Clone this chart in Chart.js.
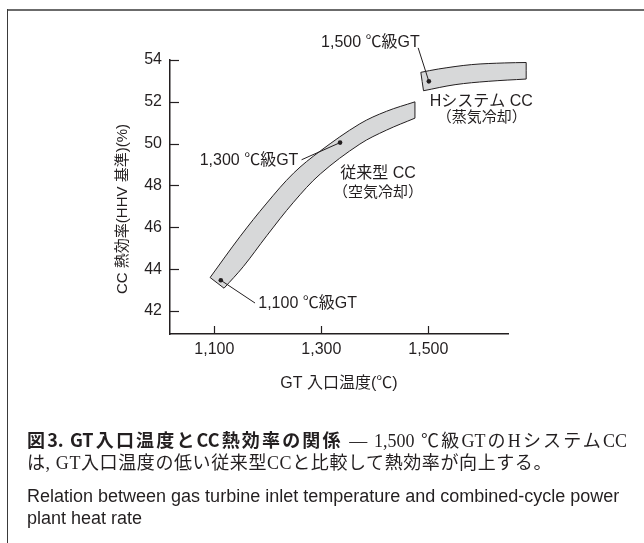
<!DOCTYPE html>
<html><head><meta charset="utf-8">
<script src="https://cdn.jsdelivr.net/npm/chart.js@4.4.1/dist/chart.umd.min.js"></script>
<style>
html,body{margin:0;padding:0;background:#fff;}
body{width:644px;height:543px;position:relative;overflow:hidden;}
#c{position:absolute;left:0;top:0;}
.frameTop{position:absolute;left:7px;top:9px;width:637px;height:2px;background:#6b6b6b;}
.frameLeft{position:absolute;left:7px;top:9px;width:1px;height:534px;background:#3a3a3a;}
.cap{position:absolute;left:27px;color:#231f20;white-space:nowrap;}
.jp1{top:428px;font-size:18px;line-height:22px;width:600px;text-align:justify;text-align-last:justify;}
.jp2{top:452px;font-size:18px;line-height:22px;letter-spacing:0.6px;}
.b{font-family:"Noto Sans CJK JP",sans-serif;font-weight:700;}
.s{font-family:"Liberation Serif","Noto Sans CJK JP",serif;font-weight:400;}
.en{font-family:"Liberation Sans",Arial,sans-serif;font-size:18px;line-height:21px;}
.en1{top:486px;}
.en2{top:508px;}
</style>
</head><body>
<canvas id="c" width="644" height="543"></canvas>
<div class="frameTop"></div>
<div class="frameLeft"></div>
<div class="cap jp1"><span class="b">図3.&nbsp;GT入口温度とCC熱効率の関係</span><span class="s">&nbsp;— 1,500 ℃級GTのHシステムCC</span></div>
<div class="cap jp2 s">は, GT入口温度の低い従来型CCと比較して熱効率が向上する。</div>
<div class="cap en en1">Relation between gas turbine inlet temperature and combined-cycle power</div>
<div class="cap en en2">plant heat rate</div>
<script>
// ---- axis ticks ----
const xTickValues = [1100, 1300, 1500];
const xTickLabels = ['1,100', '1,300', '1,500'];
const yTickValues = [42, 44, 46, 48, 50, 52, 54];

// ---- conventional CC (air cooled) band outline ----
const convUpperX = [1092, 1148, 1198, 1248, 1298, 1372, 1422, 1475];
const convUpperY = [43.60, 45.56, 47.16, 48.59, 49.65, 50.95, 51.55, 52.00];
const convLowerX = [1475, 1422, 1372, 1298, 1248, 1198, 1154, 1118];
const convLowerY = [51.22, 50.65, 49.98, 48.55, 47.20, 45.60, 44.12, 43.09];

// ---- H system CC (steam cooled) band outline ----
const hUpperX = [1486, 1519, 1581, 1643, 1683];
const hUpperY = [53.41, 53.57, 53.78, 53.86, 53.88];
const hLowerX = [1683, 1612, 1550, 1491];
const hLowerY = [53.09, 52.98, 52.82, 52.53];

// ---- GT class points ----
const gtLabels = ['1,100 ℃級GT', '1,300 ℃級GT', '1,500 ℃級GT'];
const gtPointX = [1112, 1335, 1501];
const gtPointY = [43.47, 50.05, 52.98];
const gtLeaderX = [1176, 1263, 1481];
const gtLeaderY = [42.38, 49.23, 54.58];
const gtLabelX = [1182, 1257, 1484];
const gtLabelY = [42.37, 49.19, 54.81];
const gtLabelAlign = ['left', 'right', 'right'];

// ---- band names ----
const bandNames = ['従来型 CC', '（空気冷却）', 'Hシステム CC', '（蒸気冷却）'];
const bandNameX = [1406, 1406, 1599, 1600];
const bandNameY = [48.59, 47.63, 52.02, 51.22];

const xTitle = 'GT 入口温度(℃)';
const yTitle = 'CC 熱効率(HHV 基準)(%)';

const INK = '#231f20';
const FONT = '"Liberation Sans", Arial, "Noto Sans CJK JP", sans-serif';

function outline(ux, uy, lx, ly) {
  const pts = [];
  const up = ux.map((x, i) => ({x, y: uy[i]}));
  const lo = lx.map((x, i) => ({x, y: ly[i]}));
  // duplicate corners so curves stay sharp at the band ends
  pts.push(up[0], up[0]);
  for (let i = 1; i < up.length - 1; i++) pts.push(up[i]);
  pts.push(up[up.length - 1], up[up.length - 1]);
  pts.push(lo[0], lo[0]);
  for (let i = 1; i < lo.length - 1; i++) pts.push(lo[i]);
  pts.push(lo[lo.length - 1], lo[lo.length - 1]);
  pts.push(up[0]);
  return pts;
}

const bandStyle = {
  showLine: true, pointRadius: 0, borderColor: INK, borderWidth: 1,
  backgroundColor: '#d7d8d9', fill: false, tension: 0.35, clip: false, order: 3, bandFill: true
};

const datasets = [
  Object.assign({label: 'conv', data: outline(convUpperX, convUpperY, convLowerX, convLowerY)}, bandStyle),
  Object.assign({label: 'hsys', data: outline(hUpperX, hUpperY, hLowerX, hLowerY)}, bandStyle),
];
gtPointX.forEach((x, i) => {
  datasets.push({
    label: 'leader' + i, data: [{x: gtLeaderX[i], y: gtLeaderY[i]}, {x, y: gtPointY[i]}],
    showLine: true, pointRadius: 0, borderColor: INK, borderWidth: 1, tension: 0, clip: false, order: 2
  });
});
datasets.push({
  label: 'gt', data: gtPointX.map((x, i) => ({x, y: gtPointY[i]})),
  pointRadius: 2.3, pointBackgroundColor: INK, pointBorderWidth: 0, clip: false, order: 1
});

const custom = {
  id: 'custom',
  beforeDatasetDraw(chart, args) {
    const ds = chart.data.datasets[args.index];
    if (!ds.bandFill) return;
    const line = args.meta.dataset;
    const ctx = chart.ctx;
    ctx.save();
    ctx.beginPath();
    line.path(ctx);
    ctx.closePath();
    ctx.fillStyle = ds.backgroundColor;
    ctx.fill();
    ctx.restore();
  },
  afterDraw(chart) {
    const ctx = chart.ctx;
    const xs = chart.scales.x, ys = chart.scales.y;
    const a = chart.chartArea;
    ctx.save();
    ctx.strokeStyle = INK;
    ctx.lineWidth = 1.2;
    xs.ticks.forEach(t => {
      const px = Math.round(xs.getPixelForValue(t.value)) + 0.5;
      ctx.beginPath(); ctx.moveTo(px, a.bottom); ctx.lineTo(px, a.bottom - 8); ctx.stroke();
    });
    ys.ticks.forEach(t => {
      const py = Math.round(ys.getPixelForValue(t.value)) + 0.5;
      ctx.beginPath(); ctx.moveTo(a.left, py); ctx.lineTo(a.left + 9, py); ctx.stroke();
    });
    ctx.fillStyle = INK;
    ctx.font = '16px ' + FONT;
    ctx.textBaseline = 'middle';
    gtLabels.forEach((s, i) => {
      ctx.textAlign = gtLabelAlign[i];
      ctx.fillText(s, xs.getPixelForValue(gtLabelX[i]), ys.getPixelForValue(gtLabelY[i]));
    });
    ctx.textAlign = 'center';
    bandNames.forEach((s, i) => {
      ctx.font = (s.startsWith('（') ? '15px ' : '16px ') + FONT;
      ctx.fillText(s, xs.getPixelForValue(bandNameX[i]), ys.getPixelForValue(bandNameY[i]));
    });
    // y axis title
    ctx.font = '15px ' + FONT;
    ctx.translate(123, (a.top + a.bottom) / 2 + 12);
    ctx.rotate(-Math.PI / 2);
    ctx.fillText(yTitle, 0, 0);
    ctx.restore();
  }
};

new Chart(document.getElementById('c'), {
  type: 'scatter',
  data: {datasets},
  options: {
    responsive: false, animation: false, devicePixelRatio: 1,
    layout: {padding: {top: 60, left: 0, right: 136, bottom: 143}},
    plugins: {legend: {display: false}, tooltip: {enabled: false}},
    elements: {line: {capBezierPoints: false}},
    scales: {
      x: {
        type: 'linear', min: 1017, max: 1649,
        afterBuildTicks: s => { s.ticks = xTickValues.map(v => ({value: v})); },
        afterFit: s => { s.height = 66; },
        ticks: {
          padding: 6, color: INK, font: {family: FONT, size: 16}, maxRotation: 0, autoSkip: false,
          callback: v => { const i = xTickValues.indexOf(v); return i >= 0 ? xTickLabels[i] : ''; }
        },
        grid: {display: false, drawTicks: false},
        border: {display: true, color: INK, width: 1.5},
        title: {display: true, text: xTitle, color: INK, font: {family: FONT, size: 16}, padding: {top: 0, bottom: 7}}
      },
      y: {
        type: 'linear', min: 40.9, max: 54,
        afterBuildTicks: s => { s.ticks = yTickValues.map(v => ({value: v})); },
        afterFit: s => { s.width = 170; },
        ticks: {padding: 8, color: INK, font: {family: FONT, size: 16}, autoSkip: false},
        grid: {display: false, drawTicks: false},
        border: {display: true, color: INK, width: 1.5}
      }
    }
  },
  plugins: [custom]
});
</script>
</body></html>
